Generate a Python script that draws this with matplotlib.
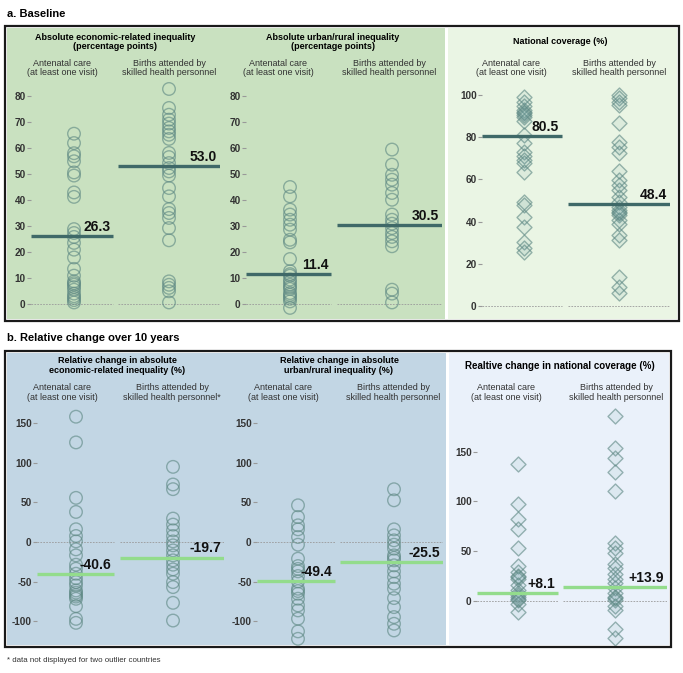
import matplotlib
matplotlib.use("Agg")
import matplotlib.pyplot as plt
import numpy as np
from matplotlib.patches import Rectangle

plt.rcParams['font.family'] = ['Liberation Sans', 'DejaVu Sans']
plt.rcParams['axes.unicode_minus'] = False

# === Data ===
cols = ["Antenatal care\n(at least one visit)", "Births attended by\nskilled health personnel"]

base_econ_anc = [65.5, 61.9, 58.0, 56.8, 54.9, 50.6, 49.4, 42.9, 41.2, 28.8, 27.3, 25.8, 23.5, 20.9,
                 17.9, 13.5, 10.9, 8.7, 7.4, 8.0, 5.5, 4.0, 3.0, 2.3, 0.6, 6.5, 1.5]
base_econ_sba = [82.7, 75.4, 72.8, 70.9, 69.4, 67.7, 66.4, 65.1, 63.5, 58.1, 56.5, 54.2, 52.3, 51.0,
                 49.4, 44.6, 41.4, 36.5, 35.0, 33.1, 29.2, 24.5, 8.7, 7.4, 6.2, 4.9, 0.6]
base_urb_anc = [45.0, 41.4, 36.3, 34.4, 32.4, 30.5, 28.6, 24.7, 23.7, 17.3, 12.6, 10.9, 9.4, 7.4,
                5.8, 4.2, 2.7, 1.0, -1.5, 8.5, 6.5, 3.5, 11.5, 2.0]
base_urb_sba = [59.4, 53.6, 49.7, 47.8, 45.9, 42.7, 40.1, 34.4, 32.4, 30.9, 29.2, 27.3, 25.8, 24.1,
                22.2, 5.5, 4.0, 0.6]
base_cov_anc = [99.2, 96.8, 94.8, 92.9, 91.3, 89.7, 87.8, 92.0, 90.5, 81.0, 77.1, 73.1, 71.1, 69.2,
                67.6, 63.7, 49.4, 47.9, 42.3, 37.6, 30.5, 27.3, 25.8]
base_cov_sba = [100.0, 98.4, 96.8, 95.3, 86.6, 77.9, 75.5, 72.7, 64.1, 59.7, 57.3, 55.0, 51.8, 49.4,
                47.1, 44.7, 43.1, 40.8, 38.9, 33.6, 31.3, 13.9, 9.2, 6.0, 45.5, 44.0]

chg_econ_anc = [158.4, 125.9, 55.8, 38.0, 16.1, 7.6, 0.8, -9.3, -16.9, -28.7, -33.8, -40.1, -45.6,
                -50.7, -54.9, -61.3, -66.8, -71.8, -81.1, -97.2, -102.2, -64.0, -69.0]
chg_econ_sba = [95.0, 72.7, 66.8, 29.6, 22.0, 14.8, 7.6, 0.8, -4.2, -10.6, -16.9, -23.2, -28.7,
                -34.6, -40.1, -50.7, -57.0, -76.9, -99.3]
chg_urb_anc = [46.4, 31.6, 21.1, 16.0, 6.3, -3.4, -21.1, -30.4, -37.1, -43.0, -49.8, -59.1, -65.4,
               -71.7, -80.2, -86.5, -97.0, -113.0, -122.4, -34.0, -62.0]
chg_urb_sba = [66.7, 52.7, 16.0, 8.4, 2.1, -3.4, -8.4, -16.9, -23.2, -29.5, -37.1, -44.3, -52.7,
               -59.1, -70.9, -82.3, -94.9, -103.4, -111.8, -20.0]
chg_cov_anc = [137.2, 96.9, 82.2, 72.1, 52.7, 35.2, 28.5, 25.2, 21.8, 15.8, 10.7, 7.4, 4.0, 0.7,
               -3.7, -11.7, 24.0, 2.0, 6.0]
chg_cov_sba = [186.2, 153.4, 144.0, 129.9, 110.7, 57.7, 53.4, 47.7, 36.6, 32.6, 26.5, 17.4, 12.4,
               7.4, 4.0, 0.7, -5.0, -9.4, -28.5, -37.9, 22.0, 3.0]

base_means = [[26.3, 53.0], [11.4, 30.5], [80.5, 48.4]]
chg_means = [[-40.6, -19.7], [-49.4, -25.5], [8.1, 13.9]]

top_titles = ["Absolute economic-related inequality\n(percentage points)",
              "Absolute urban/rural inequality\n(percentage points)",
              "National coverage (%)"]
bot_titles = ["Relative change in absolute\neconomic-related inequality (%)",
              "Relative change in absolute\nurban/rural inequality (%)",
              "Realtive change in national coverage (%)"]

# === Layout (pixels of a 683x673 canvas) ===
W, H = 683, 673
fig = plt.figure(figsize=(W / 100, H / 100), dpi=100)


def fx(x):
    return x / W


def fy(y):
    return 1 - y / H


def ftext(x, y, s, **kw):
    fig.text(fx(x), fy(y), s, **kw)


def rect(x0, y0, x1, y1, **kw):
    fig.add_artist(Rectangle((fx(x0), fy(y1)), fx(x1) - fx(x0), fy(y0) - fy(y1),
                             transform=fig.transFigure, **kw))


# backgrounds and boxes
rect(7, 28, 445, 319, facecolor='#c9e1c0', edgecolor='none', zorder=0)
rect(448, 28, 677, 319, facecolor='#eaf5e4', edgecolor='none', zorder=0)
rect(5, 26, 679, 321, facecolor='none', edgecolor='#1a1a1a', lw=1.6, zorder=1)
rect(7, 353, 446, 645, facecolor='#c2d6e4', edgecolor='none', zorder=0)
rect(449, 353, 669, 645, facecolor='#eaf1fa', edgecolor='none', zorder=0)
rect(5, 351, 671, 647, facecolor='none', edgecolor='#1a1a1a', lw=1.6, zorder=1)

EDGE = (0.36, 0.53, 0.51, 0.60)
DFILL = (0.40, 0.60, 0.62, 0.10)
top_line = '#3f6968'
bot_line = '#93dc8c'


def panel(box, zero, scale, ticks, series, means, marker, line_color, fmt):
    left, top, right, bottom, c0, c1, s1, s2 = box
    ax = fig.add_axes([fx(left), fy(bottom), fx(right) - fx(left), fy(top) - fy(bottom)])
    ax.set_facecolor('none')
    span = c1 - c0
    x0, x1 = (left - c0) / span, (right - c0) / span
    e1, b2 = (s1 - c0) / span, (s2 - c0) / span
    ax.set_xlim(x0, x1)
    ax.set_ylim((zero - bottom) / scale, (zero - top) / scale)
    for sp in ax.spines.values():
        sp.set_visible(False)
    ax.set_xticks([])
    ax.set_yticks(ticks)
    ax.tick_params(axis='y', length=3, width=0.8, color='#999999', pad=0.8,
                   labelsize=7.2, labelcolor='#333333')
    for lab in ax.get_yticklabels():
        lab.set_fontweight('bold')
    segs = [(x0, e1), (b2, x1)]
    for i, vals in enumerate(series):
        ax.plot(segs[i], [0, 0], ls=(0, (2, 1.5)), color='#9a9a9a', lw=0.6, zorder=1)
        if marker == 'o':
            ax.scatter(np.full(len(vals), i), vals, s=82, marker='o', facecolor='none',
                       edgecolor=EDGE, linewidth=1.0, zorder=2, clip_on=False)
        else:
            ax.scatter(np.full(len(vals), i), vals, s=58, marker='D', facecolor=DFILL,
                       edgecolor=EDGE, linewidth=1.0, zorder=2, clip_on=False)
        ax.plot(segs[i], [means[i]] * 2, color=line_color, lw=2.4, zorder=3,
                solid_capstyle='butt')
        ax.annotate(fmt.format(means[i]), xy=(segs[i][1], means[i]), xytext=(-2, 1.5),
                    textcoords='offset points', ha='right', va='bottom',
                    fontsize=10, fontweight='bold', color='#111111', zorder=4)
    return ax


# === a. Baseline ===
ftext(7, 14, "a. Baseline", fontsize=8, fontweight='bold', va='center')
top_boxes = [(31, 85, 220, 318, 74, 169, 113, 118),
             (246, 85, 442, 318, 290, 392, 331, 337),
             (482, 85, 670, 318, 524, 619, 562, 568)]
top_series = [[base_econ_anc, base_econ_sba], [base_urb_anc, base_urb_sba],
              [base_cov_anc, base_cov_sba]]
panel(top_boxes[0], 304, 2.6, range(0, 81, 10), top_series[0], base_means[0], 'o', top_line, '{:.1f}')
panel(top_boxes[1], 304, 2.6, range(0, 81, 10), top_series[1], base_means[1], 'o', top_line, '{:.1f}')
panel(top_boxes[2], 306, 2.11, range(0, 101, 20), top_series[2], base_means[2], 'D', top_line, '{:.1f}')

title_x = [115, 333, 560]
ftext(title_x[0], 42, top_titles[0], fontsize=6.5, fontweight='bold', ha='center', va='center',
      linespacing=1.1)
ftext(title_x[1], 42, top_titles[1], fontsize=6.5, fontweight='bold', ha='center', va='center',
      linespacing=1.1)
ftext(title_x[2], 42, top_titles[2], fontsize=6.5, fontweight='bold', ha='center', va='center')
for x0, x1 in [(62, 169), (278, 389), (511, 619)]:
    ftext(x0, 68, cols[0], fontsize=6.5, ha='center', va='center', color='#333333', linespacing=1.1)
    ftext(x1, 68, cols[1], fontsize=6.5, ha='center', va='center', color='#333333', linespacing=1.1)

# === b. Relative change over 10 years ===
ftext(7, 338, "b. Relative change over 10 years", fontsize=8, fontweight='bold', va='center')
bot_boxes = [(37, 405, 224, 645, 76, 173, 114, 120),
             (257, 405, 443, 645, 298, 394, 335, 340),
             (477, 405, 667, 645, 518, 615, 558, 563)]
bot_series = [[chg_econ_anc, chg_econ_sba], [chg_urb_anc, chg_urb_sba],
              [chg_cov_anc, chg_cov_sba]]
panel(bot_boxes[0], 542, 0.791, range(-100, 151, 50), bot_series[0], chg_means[0], 'o', bot_line, '{:+.1f}')
panel(bot_boxes[1], 542, 0.791, range(-100, 151, 50), bot_series[1], chg_means[1], 'o', bot_line, '{:+.1f}')
panel(bot_boxes[2], 600.7, 0.993, range(0, 151, 50), bot_series[2], chg_means[2], 'D', bot_line, '{:+.1f}')

ftext(117, 365.5, bot_titles[0], fontsize=6.5, fontweight='bold', ha='center', va='center',
      linespacing=1.1)
ftext(339, 365.5, bot_titles[1], fontsize=6.5, fontweight='bold', ha='center', va='center',
      linespacing=1.1)
ftext(560, 366, bot_titles[2], fontsize=7, fontweight='bold', ha='center', va='center')
bot_cols = [(62, 172, "*"), (283, 393, ""), (506, 616, "")]
for x0, x1, star in bot_cols:
    ftext(x0, 392.5, cols[0], fontsize=6.5, ha='center', va='center', color='#333333', linespacing=1.1)
    ftext(x1, 392.5, cols[1] + star, fontsize=6.5, ha='center', va='center', color='#333333',
          linespacing=1.1)

ftext(7, 660, "* data not displayed for two outlier countries", fontsize=5.7, va='center',
      color='#333333')

fig.savefig("out.png", dpi=100)
